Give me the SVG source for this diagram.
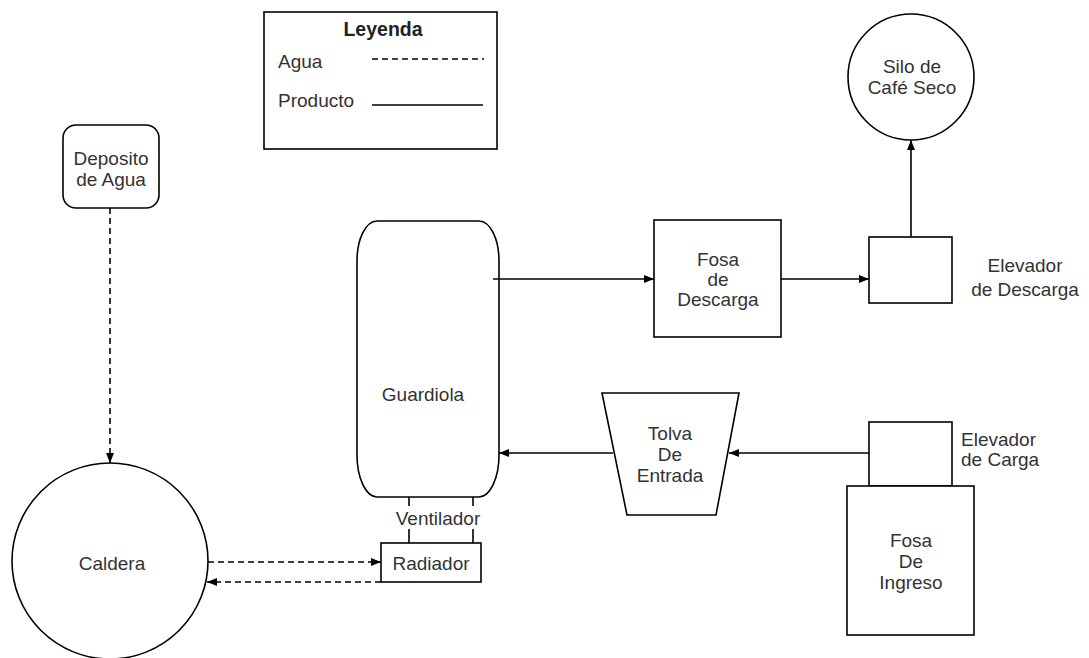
<svg xmlns="http://www.w3.org/2000/svg" width="1089" height="658" viewBox="0 0 1089 658">
  <style>
    .shape { fill: #ffffff; stroke: #000000; stroke-width: 1.6; }
    .lbl { font-family: "Liberation Sans", Arial, sans-serif; font-size: 19px; fill: #333333; text-anchor: middle; }
    .lbl-l { font-family: "Liberation Sans", Arial, sans-serif; font-size: 19px; fill: #333333; }
    .title { font-family: "Liberation Sans", Arial, sans-serif; font-size: 19.5px; font-weight: bold; fill: #222222; text-anchor: middle; }
    .flow { fill: none; stroke: #000000; stroke-width: 1.6; }
    .water { fill: none; stroke: #000000; stroke-width: 1.6; stroke-dasharray: 6 4; }
  </style>
  <defs>
    <marker id="arrow" viewBox="0 0 10 8" refX="10" refY="4" markerWidth="10" markerHeight="8" markerUnits="userSpaceOnUse" orient="auto">
      <path d="M0,0 L10,4 L0,8 Z" fill="#000000"/>
    </marker>
  </defs>
  <rect width="1089" height="658" fill="#ffffff"/>

  <!-- legend -->
  <g id="legend">
    <rect class="shape" x="264" y="12" width="233" height="137"/>
    <text class="title" x="383" y="36">Leyenda</text>
    <text class="lbl-l" x="278" y="68">Agua</text>
    <line class="water" x1="372" y1="59" x2="484" y2="59"/>
    <text class="lbl-l" x="278" y="107">Producto</text>
    <line class="flow" x1="372" y1="105" x2="483" y2="105"/>
  </g>

  <g id="deposito">
    <rect class="shape" x="63" y="125" width="96" height="83" rx="13" ry="13"/>
    <text class="lbl" x="111" y="165">Deposito</text>
    <text class="lbl" x="111" y="186">de Agua</text>
  </g>

  <g id="caldera">
    <circle class="shape" cx="110" cy="561" r="98"/>
    <text class="lbl" x="112" y="570">Caldera</text>
  </g>

  <g id="silo">
    <circle class="shape" cx="911" cy="77" r="63"/>
    <text class="lbl" x="912" y="73">Silo de</text>
    <text class="lbl" x="912" y="94">Café Seco</text>
  </g>

  <g id="guardiola">
    <path class="shape" d="M377,221 L479,221 A20,40 0 0 1 499,261 L499,455 A20,42 0 0 1 479,497 L377,497 A20,42 0 0 1 357,455 L357,261 A20,40 0 0 1 377,221 Z"/>
    <text class="lbl" x="423" y="401">Guardiola</text>
  </g>

  <g id="ventilador">
    <line class="flow" x1="409" y1="497" x2="409" y2="506"/>
    <line class="flow" x1="473" y1="497" x2="473" y2="506"/>
    <line class="flow" x1="409" y1="529" x2="409" y2="543"/>
    <line class="flow" x1="473" y1="529" x2="473" y2="543"/>
    <text class="lbl" x="438" y="525">Ventilador</text>
  </g>

  <g id="radiador">
    <rect class="shape" x="381" y="543" width="100" height="39"/>
    <text class="lbl" x="431" y="570">Radiador</text>
  </g>

  <g id="fosa-descarga">
    <rect class="shape" x="654" y="220" width="127" height="117"/>
    <text class="lbl" x="718" y="266">Fosa</text>
    <text class="lbl" x="718" y="286">de</text>
    <text class="lbl" x="718" y="306">Descarga</text>
  </g>

  <g id="elevador-descarga">
    <rect class="shape" x="869" y="237" width="83" height="66"/>
    <text class="lbl" x="1025" y="272">Elevador</text>
    <text class="lbl" x="1025" y="296">de Descarga</text>
  </g>

  <g id="tolva">
    <path class="shape" d="M602,393 L739,393 L716,515 L627,515 Z"/>
    <text class="lbl" x="670" y="440">Tolva</text>
    <text class="lbl" x="670" y="461">De</text>
    <text class="lbl" x="670" y="482">Entrada</text>
  </g>

  <g id="elevador-carga">
    <rect class="shape" x="869" y="422" width="83" height="64"/>
    <text class="lbl-l" x="961" y="446">Elevador</text>
    <text class="lbl-l" x="961" y="466">de Carga</text>
  </g>

  <g id="fosa-ingreso">
    <rect class="shape" x="847" y="486" width="127" height="149"/>
    <text class="lbl" x="911" y="547">Fosa</text>
    <text class="lbl" x="911" y="568">De</text>
    <text class="lbl" x="911" y="589">Ingreso</text>
  </g>

  <!-- connectors -->
  <g id="connectors">
    <line class="water" x1="110" y1="208" x2="110" y2="463" marker-end="url(#arrow)"/>
    <line class="water" x1="208" y1="562" x2="381" y2="562" marker-end="url(#arrow)"/>
    <line class="water" x1="381" y1="582" x2="207" y2="582" marker-end="url(#arrow)"/>
    <line class="flow" x1="493" y1="279" x2="654" y2="279" marker-end="url(#arrow)"/>
    <line class="flow" x1="781" y1="279" x2="869" y2="279" marker-end="url(#arrow)"/>
    <line class="flow" x1="911" y1="237" x2="911" y2="140" marker-end="url(#arrow)"/>
    <line class="flow" x1="869" y1="453" x2="729" y2="453" marker-end="url(#arrow)"/>
    <line class="flow" x1="613" y1="453" x2="499" y2="453" marker-end="url(#arrow)"/>
  </g>
</svg>
